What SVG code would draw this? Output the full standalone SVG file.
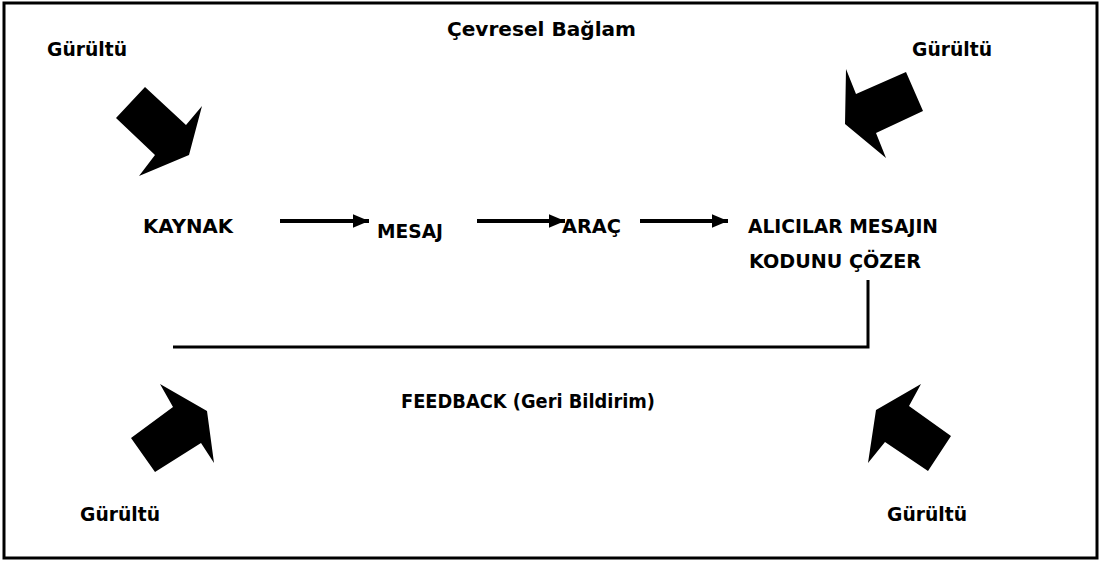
<svg xmlns="http://www.w3.org/2000/svg" width="1103" height="563" viewBox="0 0 1103 563">
<style>
text{font-family:"DejaVu Sans","Liberation Sans",sans-serif;font-weight:bold;font-size:19px;fill:#000}
.noise{fill:#000;stroke:none}
.conn{stroke:#000;stroke-width:4;fill:none}
.fb{stroke:#000;stroke-width:3;fill:none}
</style>
<defs>
<marker id="ah" markerWidth="5" markerHeight="4" refX="4" refY="2" orient="auto" markerUnits="strokeWidth">
<path d="M0,0.3 L4,2 L0,3.7 Z" fill="#000"/>
</marker>
</defs>
<rect x="4" y="3" width="1093" height="555" fill="#fff" stroke="#000" stroke-width="3"/>
<g id="context"><text x="447" y="36" textLength="189" lengthAdjust="spacingAndGlyphs">Çevresel Bağlam</text></g>
<g id="noise-tl"><text x="47" y="56" textLength="80" lengthAdjust="spacingAndGlyphs">Gürültü</text>
<polygon class="noise" points="145,87 186,125 202,106 189,155 139,176 155,155 116,118"/></g>
<g id="noise-tr"><text x="912" y="56" textLength="80" lengthAdjust="spacingAndGlyphs">Gürültü</text>
<polygon class="noise" points="906,72 923,111 876,133 886,158 845,124 846,69 856,94"/></g>
<g id="noise-bl"><text x="80" y="521" textLength="80" lengthAdjust="spacingAndGlyphs">Gürültü</text>
<polygon class="noise" points="131,438 155,472 201,443 214,463 207,411 160,384 173,407"/></g>
<g id="noise-br"><text x="887" y="521" textLength="80" lengthAdjust="spacingAndGlyphs">Gürültü</text>
<polygon class="noise" points="951,436 928,471 885,442 868,463 876,410 921,384 909,406"/></g>
<g id="kaynak"><text x="143" y="233" textLength="90" lengthAdjust="spacingAndGlyphs">KAYNAK</text></g>
<g id="mesaj"><text x="377" y="238" textLength="66" lengthAdjust="spacingAndGlyphs">MESAJ</text></g>
<g id="arac"><text x="562" y="233" textLength="59" lengthAdjust="spacingAndGlyphs">ARAÇ</text></g>
<g id="alicilar"><text x="748" y="233" textLength="190" lengthAdjust="spacingAndGlyphs">ALICILAR MESAJIN</text>
<text x="749" y="268" textLength="172" lengthAdjust="spacingAndGlyphs">KODUNU  ÇÖZER</text></g>
<g id="feedback"><text x="401" y="408" textLength="254" lengthAdjust="spacingAndGlyphs">FEEDBACK (Geri Bildirim)</text></g>
<g id="connectors">
<line class="conn" x1="280" y1="221" x2="369" y2="221" marker-end="url(#ah)"/>
<line class="conn" x1="477" y1="221" x2="565" y2="221" marker-end="url(#ah)"/>
<line class="conn" x1="640" y1="221" x2="728" y2="221" marker-end="url(#ah)"/>
<polyline class="fb" points="868,280 868,347 173,347"/>
</g>
</svg>
